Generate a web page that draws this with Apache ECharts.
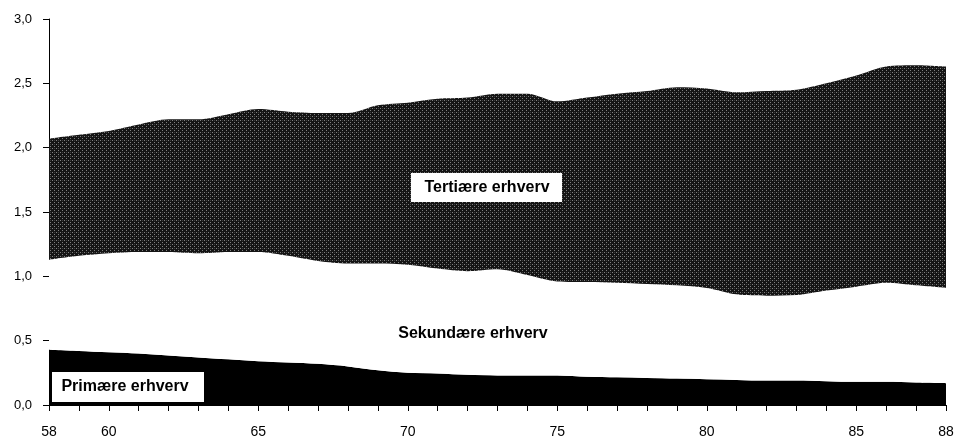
<!DOCTYPE html>
<html>
<head>
<meta charset="utf-8">
<script src="https://cdn.jsdelivr.net/npm/echarts@6/dist/echarts.min.js"></script>
<style>
  html, body { margin: 0; padding: 0; background: #fff; }
  #main { width: 967px; height: 440px; }
</style>
</head>
<body>
<div id="main"></div>
<script>
// arbejdsstyrke fordelt paa erhverv, 1958-88

var years = [];
for (var y = 58; y <= 88; y++) years.push(String(y));

var shownYears = ['58', '60', '65', '70', '75', '80', '85', '88'];

var primaer = [0.43, 0.42, 0.41, 0.40, 0.385, 0.37, 0.355, 0.34, 0.33, 0.32, 0.30,
    0.27, 0.25, 0.245, 0.235, 0.23, 0.23, 0.23, 0.22, 0.215, 0.21,
    0.205, 0.20, 0.195, 0.19, 0.19, 0.185, 0.18, 0.18, 0.175, 0.17];

var sekundaer = [0.70, 0.74, 0.77, 0.79, 0.805, 0.81, 0.835, 0.85, 0.83, 0.80, 0.80,
    0.83, 0.84, 0.815, 0.805, 0.825, 0.78, 0.73, 0.735, 0.735, 0.73,
    0.725, 0.71, 0.665, 0.66, 0.665, 0.705, 0.74, 0.77, 0.755, 0.74];

var tertiaer = [0.94, 0.94, 0.95, 0.99, 1.03, 1.04, 1.07, 1.11, 1.12, 1.15, 1.17,
    1.23, 1.26, 1.32, 1.35, 1.365, 1.41, 1.40, 1.435, 1.47, 1.50,
    1.54, 1.55, 1.57, 1.59, 1.595, 1.61, 1.64, 1.68, 1.71, 1.72];

// lille raster-moenster til den graa flade
var pat = document.createElement('canvas');
pat.width = 4; pat.height = 4;
var pc = pat.getContext('2d');
pc.fillStyle = '#141414';
pc.fillRect(0, 0, 4, 4);
pc.fillStyle = '#808080';
pc.fillRect(0, 0, 1, 1);
pc.fillRect(2, 2, 1, 1);
pc.fillStyle = '#3c3c3c';
pc.fillRect(2, 0, 1, 1);

var fnt = '"Liberation Sans", Arial, sans-serif';

var chart = echarts.init(document.getElementById('main'));
var option = {
    animation: false,
    backgroundColor: '#fff',
    grid: {
        left: 49,
        right: 21,
        top: 19,
        bottom: 35,
        containLabel: false
    },
    xAxis: {
        type: 'category',
        boundaryGap: false,
        data: years,
        axisLine: { lineStyle: { color: '#000', width: 1 } },
        axisTick: { show: true, interval: 0, length: 6, lineStyle: { color: '#000' } },
        axisLabel: {
            interval: 0,
            margin: 20,
            color: '#000',
            fontSize: 14,
            fontFamily: fnt,
            formatter: function (v) {
                return shownYears.indexOf(v) >= 0 ? v : '';
            }
        },
        splitLine: { show: false }
    },
    yAxis: {
        type: 'value',
        min: 0,
        max: 3,
        interval: 0.5,
        axisLine: { show: true, lineStyle: { color: '#000', width: 1 } },
        axisTick: { show: true, length: 6, lineStyle: { color: '#000' } },
        axisLabel: {
            margin: 17,
            color: '#000',
            fontSize: 13,
            fontFamily: fnt,
            formatter: function (v) {
                return v.toFixed(1).replace('.', ',');
            }
        },
        splitLine: { show: false }
    },
    series: [
        {
            name: 'Primære erhverv',
            type: 'line',
            stack: 'total',
            smooth: 0.3,
            symbol: 'none',
            data: primaer,
            lineStyle: { width: 0 },
            areaStyle: { color: '#000', opacity: 1 }
        },
        {
            name: 'Sekundære erhverv',
            type: 'line',
            stack: 'total',
            smooth: 0.3,
            symbol: 'none',
            data: sekundaer,
            lineStyle: { width: 0 },
            areaStyle: { color: '#fff', opacity: 1 }
        },
        {
            name: 'Tertiære erhverv',
            type: 'line',
            stack: 'total',
            smooth: 0.3,
            symbol: 'none',
            data: tertiaer,
            lineStyle: { width: 0 },
            areaStyle: { color: { image: pat, repeat: 'repeat' }, opacity: 1 }
        }
    ],
    graphic: [
        {
            type: 'rect',
            z: 100,
            shape: { x: 411, y: 173, width: 151, height: 29 },
            style: { fill: '#fff' }
        },
        {
            type: 'text',
            z: 101,
            x: 487,
            y: 188,
            style: {
                text: 'Tertiære erhverv',
                fill: '#000',
                fontSize: 16,
                fontWeight: 'bold',
                fontFamily: fnt,
                align: 'center',
                verticalAlign: 'middle'
            }
        },
        {
            type: 'text',
            z: 101,
            x: 473,
            y: 334,
            style: {
                text: 'Sekundære erhverv',
                fill: '#000',
                fontSize: 16,
                fontWeight: 'bold',
                fontFamily: fnt,
                align: 'center',
                verticalAlign: 'middle'
            }
        },
        {
            type: 'rect',
            z: 100,
            shape: { x: 52, y: 372, width: 152, height: 30 },
            style: { fill: '#fff' }
        },
        {
            type: 'text',
            z: 101,
            x: 125,
            y: 387,
            style: {
                text: 'Primære erhverv',
                fill: '#000',
                fontSize: 16,
                fontWeight: 'bold',
                fontFamily: fnt,
                align: 'center',
                verticalAlign: 'middle'
            }
        }
    ]
};
chart.setOption(option);
</script>
</body>
</html>
